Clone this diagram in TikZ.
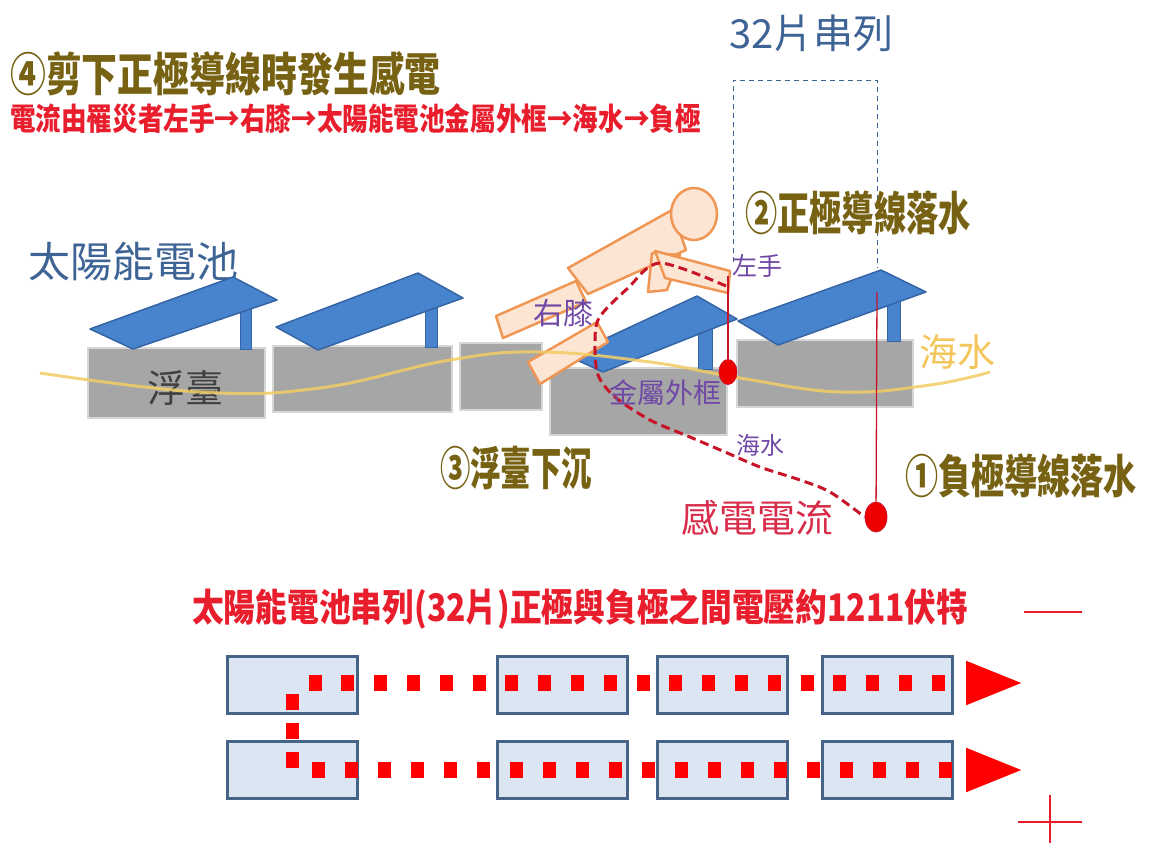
\documentclass[tikz,border=0pt]{standalone}
\usepackage{fontspec}
\usepackage{tikz}
\usetikzlibrary{shapes.geometric}

\newfontfamily\cjk{Noto Sans CJK TC}
\newcommand{\sz}[1]{\fontsize{#1}{#1}\selectfont}
\newcommand{\narrow}[1]{\addfontfeatures{FakeStretch=#1}}

\definecolor{stepgold}{RGB}{118,98,18}
\definecolor{routered}{RGB}{232,30,45}
\definecolor{labelblue}{RGB}{62,100,150}
\definecolor{panelblue}{RGB}{72,132,205}
\definecolor{paneledge}{RGB}{52,100,165}
\definecolor{floatgray}{RGB}{166,166,166}
\definecolor{floatedge}{RGB}{214,214,214}
\definecolor{seagold}{RGB}{242,205,100}
\definecolor{notepurple}{RGB}{112,72,165}
\definecolor{skin}{RGB}{253,229,212}
\definecolor{skinedge}{RGB}{240,150,85}
\definecolor{currentred}{RGB}{200,20,40}
\definecolor{shockred}{RGB}{215,45,75}
\definecolor{cellfill}{RGB}{220,230,242}
\definecolor{celledge}{RGB}{70,100,135}
\definecolor{dotred}{RGB}{238,0,0}

\tikzset{
  steptext/.style={anchor=west, inner sep=0, text=stepgold, font={\cjk\bfseries\narrow{#1}\sz{46}}},
  steptext/.default=0.78,
  note/.style={inner sep=0, text=notepurple},
  panel/.style={fill=panelblue, draw=paneledge, line width=1.5pt, line join=round},
  post/.style={fill=panelblue, draw=paneledge, line width=1pt},
  float/.style={fill=floatgray, draw=floatedge, line width=2.5pt},
  body/.style={fill=skin, draw=skinedge, line width=2.5pt, line join=round},
  wire/.style={draw=currentred, line width=1.3pt},
  dot/.style={ellipse, fill=dotred, draw=currentred, line width=0.8pt, inner sep=0},
  cellbox/.style={rectangle, fill=cellfill, draw=celledge, line width=3pt, minimum width=130, minimum height=57, anchor=north west},
  tip/.style={isosceles triangle, isosceles triangle apex angle=44, fill=red, inner sep=0, minimum height=55, anchor=west}
}

\begin{document}
\begin{tikzpicture}[x=1pt,y=-1pt]
\useasboundingbox (0,0) rectangle (1150,843);

\node [steptext] (step4) at (10,74) {④剪下正極導線時發生感電};
\node [anchor=west, inner sep=0, text=routered, font={\cjk\bfseries\narrow{0.825}\sz{31}}] (route) at (10,119) {電流由罹災者左手→右膝→太陽能電池金屬外框→海水→負極};

\node [anchor=west, inner sep=0, text=labelblue, font={\cjk\sz{40}}] (string) at (729,33) {32片串列};
\draw [labelblue, dashed, line width=1pt, dash pattern=on 5pt off 4pt] (733,262) -- (733,80) -- (877,80) -- (877,268);

\node [steptext=0.70] (step2) at (745,213) {②正極導線落水};
\node [anchor=west, inner sep=0, text=labelblue, font={\cjk\sz{42}}] (cells) at (28,262) {太陽能電池};

% floats
\draw [float] (88,348) rectangle (265,418);
\draw [float] (273,346) rectangle (452,412);
\draw [float] (460,343) rectangle (542,410);
\draw [float] (550,368) rectangle (727,435);
\draw [float] (737,340) rectangle (913,407);

% panels on posts
\draw [post] (240,298) rectangle (251,349);
\draw [post] (425,294) rectangle (437,347);
\draw [post] (698,316) rectangle (712,369);
\draw [post] (887,290) rectangle (900,341);
\draw [panel] (90,329) -- (233,277) -- (277,300) -- (133,349) -- cycle;
\draw [panel] (276,327) -- (418,273) -- (463,298) -- (318,350) -- cycle;
\draw [panel] (568,356) -- (697,296) -- (737,319) -- (603,372) -- cycle;
\draw [panel] (738,321) -- (881,270) -- (926,292) -- (778,345) -- cycle;

\node [inner sep=0, text=black!75, font={\cjk\sz{38}}] (floatname) at (185,388) {浮臺};

% person
\draw [body] (528,362) -- (597,322) -- (608,342) -- (540,384) -- cycle;
\draw [body] (568,268) -- (672,210) -- (686,250) -- (588,294) -- cycle;
\draw [body] (496,316) -- (576,281) -- (586,302) -- (503,338) -- cycle;
\draw [body] (652,253) -- (680,255) -- (667,290) -- (648,292) -- cycle;
\draw [body] (655,251) -- (730,271) -- (728,293) -- (665,278) -- cycle;
\draw [body] (694,214) ellipse [x radius=23, y radius=26];

% sea surface
\draw [seagold, line width=3pt, opacity=0.85] plot [smooth, tension=0.7] coordinates {(40,373) (200,392) (320,388) (450,360) (540,352) (650,362) (740,378) (840,392) (930,385) (990,372)};
\node [inner sep=0, text=seagold!90!orange, font={\cjk\sz{38}}] (seaname) at (957,352) {海水};

% current path
\coordinate (hand) at (728,276);
\coordinate (handmid) at (726,286);
\coordinate (negtop) at (877,292);
\node [dot, minimum width=18, minimum height=25] (posend) at (728,372) {};
\node [dot, minimum width=22, minimum height=30] (negend) at (876,517) {};
\draw [wire] (hand) -- (posend);
\draw [wire] (negtop) -- (negend);
\draw [currentred, line width=3pt, dash pattern=on 9pt off 5pt] plot [smooth, tension=0.5] coordinates {(handmid) (660,263) (628,288) (599,318) (595,345) (598,375) (615,397) (650,420) (690,437) (725,452) (760,467) (800,480) (830,492) (negend.west)};

\node [note, font={\cjk\sz{25}}] (lefthand) at (757,266) {左手};
\node [note, font={\cjk\sz{30}}] (rightknee) at (563,313) {右膝};
\node [note, font={\cjk\sz{28}}] (frame) at (665,393) {金屬外框};
\node [note, font={\cjk\sz{24}}] (water) at (760,445) {海水};

\node [steptext=0.66] (step3) at (440,468) {③浮臺下沉};
\node [steptext=0.72] (step1) at (905,476) {①負極導線落水};
\node [inner sep=0, text=shockred, font={\cjk\sz{38}}] (shock) at (757,518) {感電電流};

% series string
\node [anchor=west, inner sep=0, text=routered, font={\cjk\bfseries\narrow{0.835}\sz{38}}] (volt) at (192,609) {太陽能電池串列(32片)正極與負極之間電壓約1211伏特};
\draw [routered, line width=1.5pt] (1024,612) -- (1082,612);
\draw [routered, line width=1.5pt] (1018,822) -- (1082,822);
\draw [routered, line width=1.5pt] (1050,795) -- (1050,843);

\foreach \x/\n in {226/a,496/b,656/c,821/d} {
  \node [cellbox] (top\n) at (\x,655) {};
  \node [cellbox] (bot\n) at (\x,740) {};
}
\foreach \i in {0,...,19} {
  \fill [red] (315+32.8*\i-6.5,675) rectangle ++(13,16);
  \fill [red] (318+33*\i-6.5,762) rectangle ++(13,16);
}
\foreach \y in {702,731,760}
  \fill [red] (292-6.5,\y-8) rectangle ++(13,16);
\node [tip] (plusend) at (966,683) {};
\node [tip] (minusend) at (966,770) {};

\end{tikzpicture}
\end{document}
